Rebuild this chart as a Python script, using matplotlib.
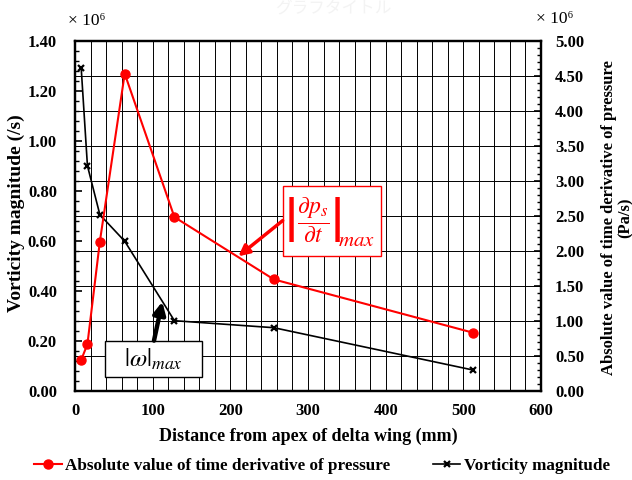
import numpy as np
import matplotlib
matplotlib.use("Agg")
import matplotlib.pyplot as plt
from matplotlib.ticker import MultipleLocator, FormatStrFormatter
from matplotlib.patches import Rectangle

# data
distance = [8, 16, 32, 64, 128, 256, 512]  # mm
vorticity = [1.29, 0.90, 0.704, 0.598, 0.28, 0.252, 0.083]  # x1e6 /s
dpdt = [0.44, 0.665, 2.13, 4.53, 2.48, 1.59, 0.83]  # x1e6 Pa/s

label_dpdt = "Absolute value of time derivative of pressure"
label_vort = "Vorticity magnitude"

serif = ["Liberation Serif", "DejaVu Serif"]
plt.rcParams["font.family"] = serif
plt.rcParams["mathtext.fontset"] = "stix"

fig = plt.figure(figsize=(6.32, 4.8), dpi=100)
ax1 = fig.add_axes([75 / 632, 1 - 390.7 / 480, 466 / 632, 350 / 480])
ax2 = ax1.twinx()

# left axis
ax1.set_xlim(0, 600)
ax1.set_ylim(0, 1.4)
ax1.xaxis.set_major_locator(MultipleLocator(100))
ax1.xaxis.set_minor_locator(MultipleLocator(20))
ax1.yaxis.set_major_locator(MultipleLocator(0.2))
ax1.yaxis.set_minor_locator(MultipleLocator(0.04))
ax1.yaxis.set_major_formatter(FormatStrFormatter("%.2f"))
ax1.set_axisbelow(True)
ax1.grid(which="both", axis="x", color="black", lw=0.7)

# right axis
ax2.set_ylim(0, 5)
ax2.yaxis.set_major_locator(MultipleLocator(0.5))
ax2.yaxis.set_minor_locator(MultipleLocator(0.1))
ax2.yaxis.set_major_formatter(FormatStrFormatter("%.2f"))

# horizontal grid follows the right axis ticks
for v in np.arange(0.5, 5.0, 0.5):
    ax1.axhline(v * 1.4 / 5, color="black", lw=0.7, zorder=0.5)

for ax in (ax1, ax2):
    for s in ax.spines.values():
        s.set_linewidth(1.6)
    ax.tick_params(which="major", direction="in", length=5, width=1.2,
                   labelsize=12)
    ax.tick_params(which="minor", direction="in", length=3, width=1.0)
    for lab in ax.get_xticklabels() + ax.get_yticklabels():
        lab.set_fontweight("bold")
ax1.tick_params(axis="x", which="both", length=0, pad=9)
ax1.tick_params(axis="y", pad=13)
ax2.tick_params(axis="y", pad=10)

l_vort, = ax1.plot(distance, vorticity, color="black", lw=1.2, marker="x",
                   ms=5, mew=1.6, label=label_vort)
l_dpdt, = ax2.plot(distance, dpdt, color="red", lw=1.5, marker="o",
                   ms=6.5, label=label_dpdt)

fig.text(308 / 632, 1 - 436 / 480, "Distance from apex of delta wing (mm)",
         fontsize=13, fontweight="bold", ha="center", va="center")
fig.text(16 / 632, 1 - 213 / 480, "Vorticity magnitude (/s)", fontsize=14,
         fontweight="bold", ha="center", va="center", rotation=90)
fig.text(617 / 632, 1 - 218 / 480,
         "Absolute value of time derivative of pressure\n(Pa/s)",
         fontsize=12, fontweight="bold", ha="center", va="center",
         rotation=90, multialignment="center", linespacing=1.05)

fig.text(87 / 632, 1 - 21 / 480, "× 10⁶", fontsize=12.5, ha="center",
         va="center")
fig.text(555 / 632, 1 - 19 / 480, "× 10⁶", fontsize=12.5, ha="center",
         va="center")
fig.text(333 / 632, 1 - 9 / 480, "グラフタイトル", fontsize=12,
         color="#f3f3f3", ha="center", va="center",
         family=["Noto Sans CJK JP", "DejaVu Sans"])

# annotation boxes
ax2.add_patch(Rectangle((0.4457, 0.3857), 0.211, 0.1993,
                        transform=ax2.transAxes, facecolor="white",
                        edgecolor="red", lw=1.0, zorder=5))
ax2.text(0.511, 0.49,
         r"$\left|\dfrac{\partial p_s}{\partial t}\right|$",
         transform=ax2.transAxes, color="red", fontsize=17, ha="center",
         va="center", zorder=6)
ax2.text(0.603, 0.425, r"$max$", transform=ax2.transAxes, color="red",
         fontsize=15, ha="center", va="center", zorder=6)
ax2.annotate("", xy=(210.3, 1.92), xycoords=ax2.transData,
             xytext=(0.4457, 0.486), textcoords=ax2.transAxes,
             arrowprops=dict(arrowstyle="-|>", color="red", lw=2.5,
                             mutation_scale=16, shrinkA=0, shrinkB=0),
             zorder=6)

ax2.add_patch(Rectangle((0.0644, 0.04), 0.2075, 0.102,
                        transform=ax2.transAxes, facecolor="white",
                        edgecolor="black", lw=1.0, zorder=5))
ax2.text(0.168, 0.089, r"$|\omega|_{max}$", transform=ax2.transAxes,
         color="black", fontsize=18, ha="center", va="center", zorder=6)
ax2.annotate("", xy=(112.4, 0.356), xycoords=ax1.transData,
             xytext=(0.1695, 0.143), textcoords=ax2.transAxes,
             arrowprops=dict(arrowstyle="-|>", color="black", lw=3.2,
                             mutation_scale=18, shrinkA=0, shrinkB=0),
             zorder=6)

fig.legend([l_dpdt, l_vort], [label_dpdt, label_vort], loc="center",
           bbox_to_anchor=(322 / 632, 1 - 466 / 480), ncol=2, frameon=False,
           handlelength=1.6, handletextpad=0.2, columnspacing=2.5,
           prop=dict(family=serif, weight="bold", size=12.3))

fig.savefig("out.png", dpi=100)
